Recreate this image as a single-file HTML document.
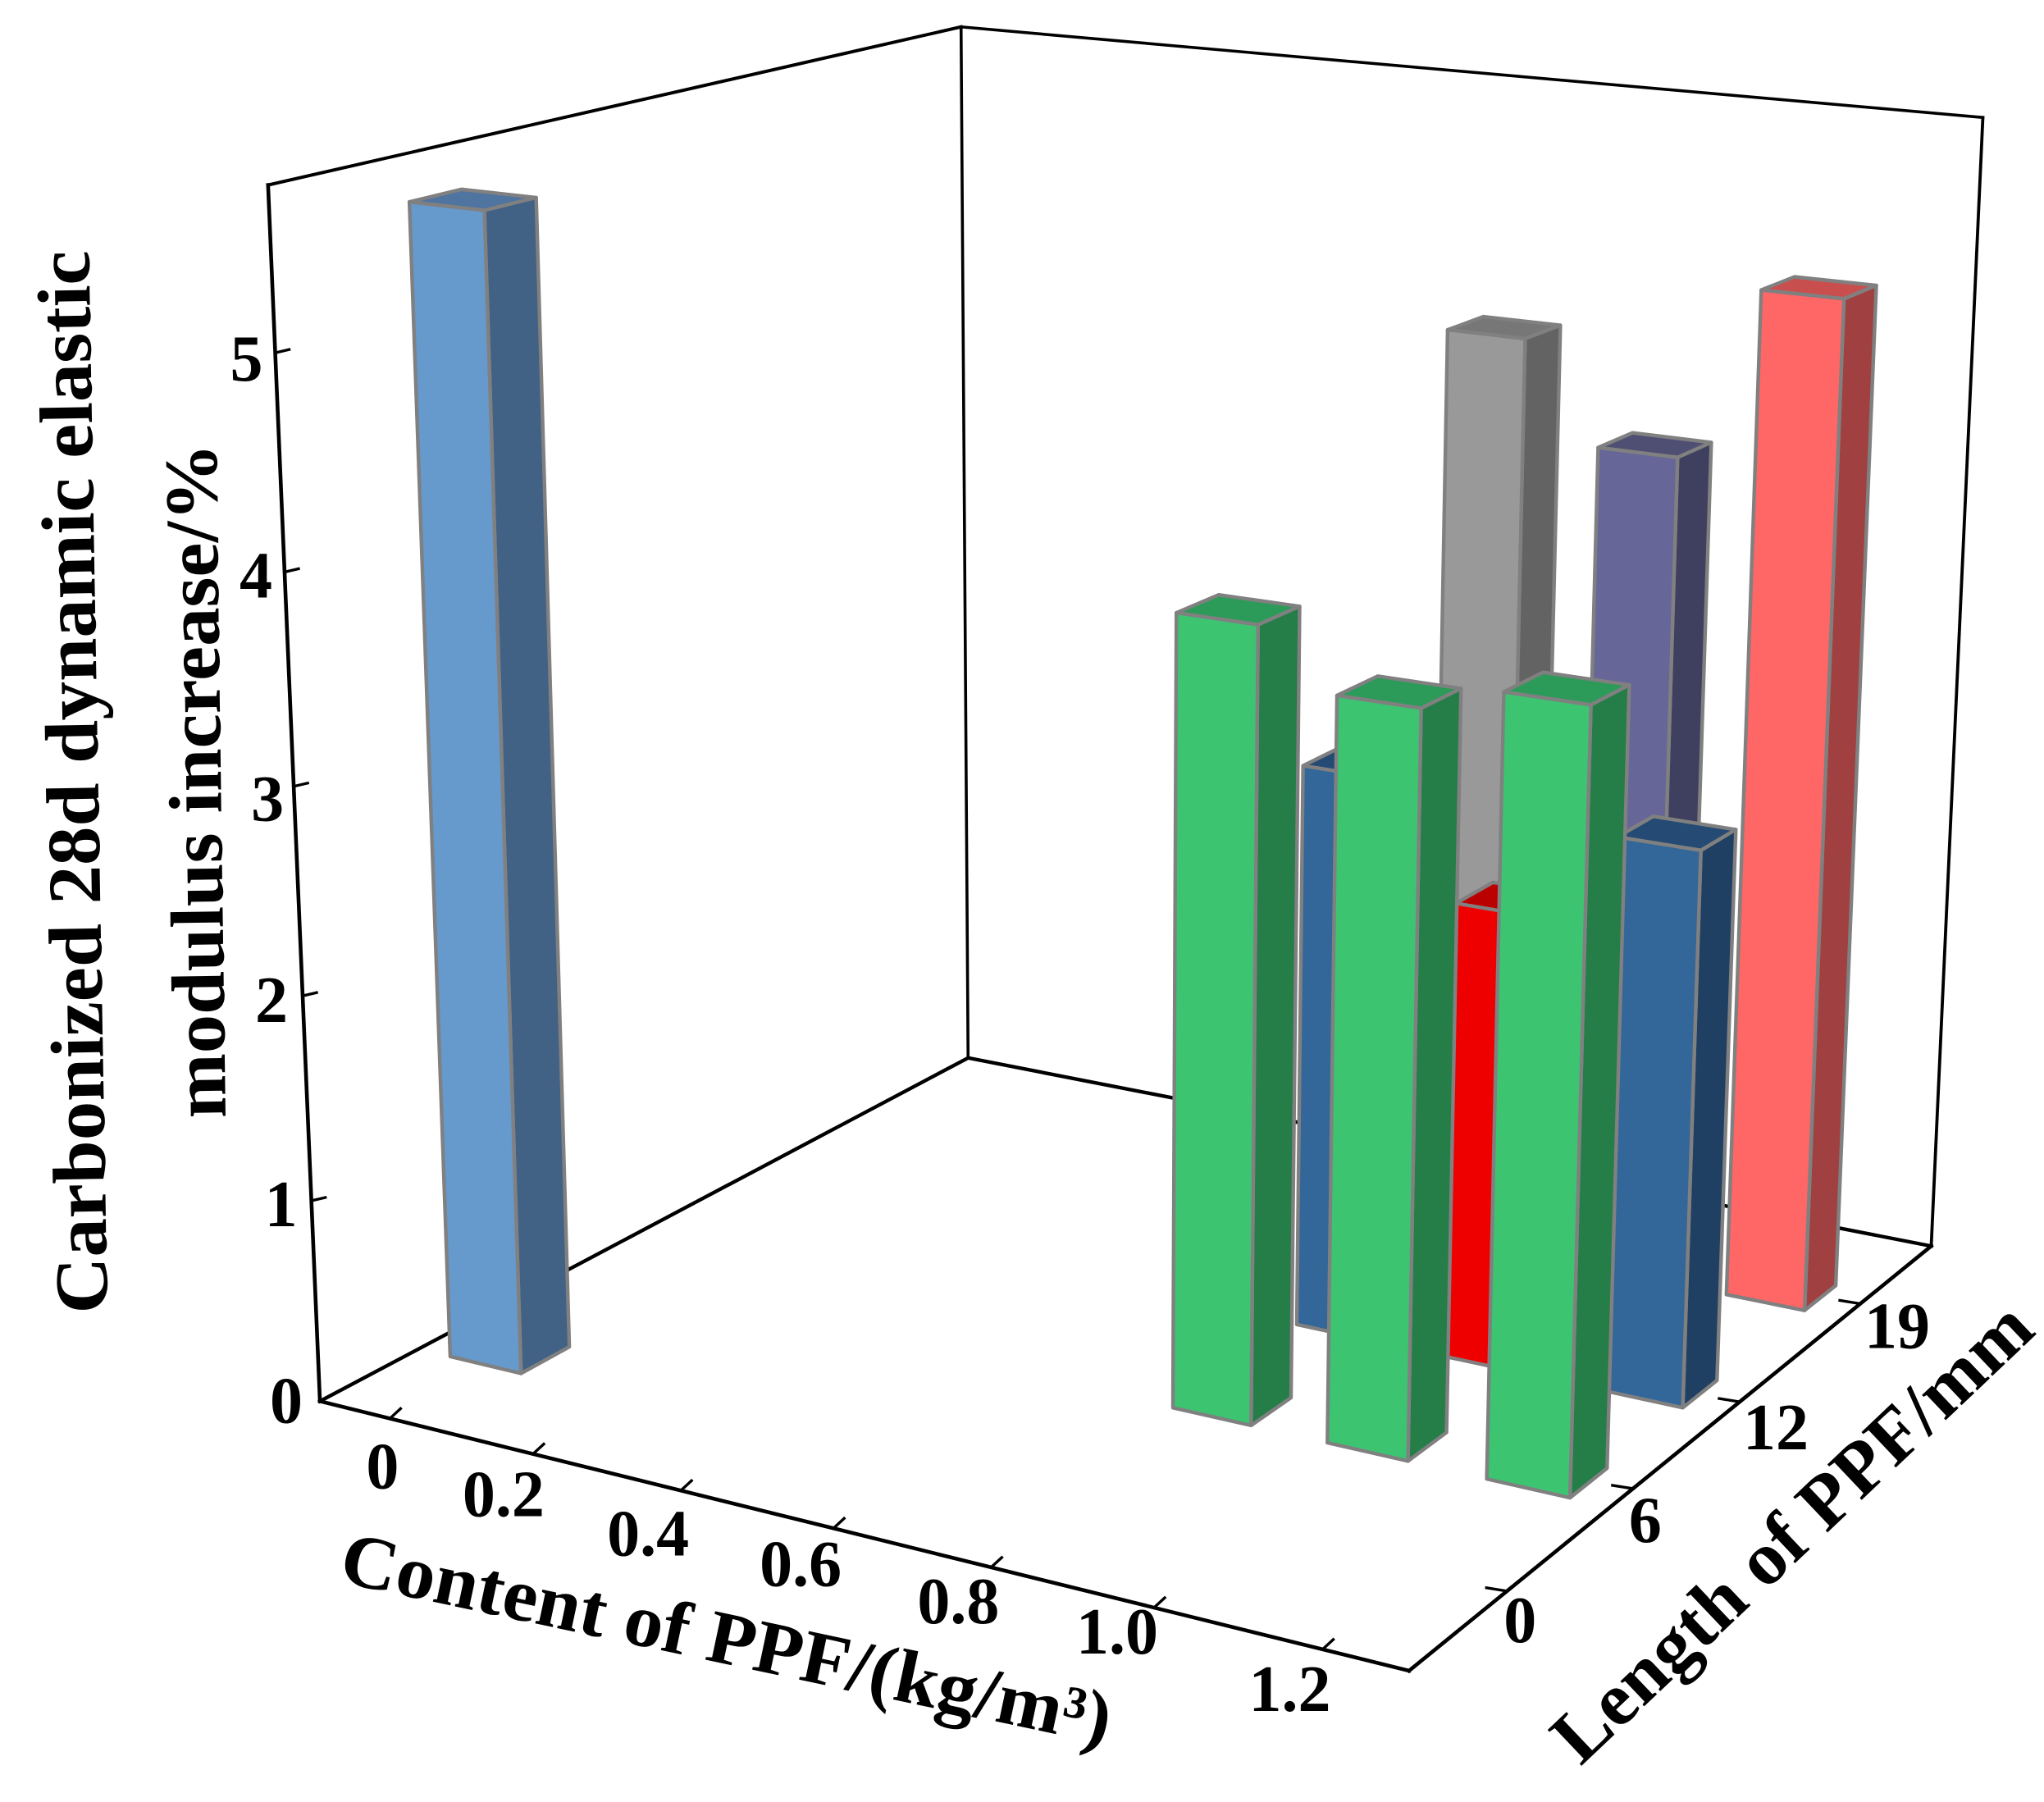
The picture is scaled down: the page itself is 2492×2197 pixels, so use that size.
<!DOCTYPE html>
<html lang="en">
<head>
<meta charset="utf-8">
<title>Carbonized 28d dynamic elastic modulus increase</title>
<style>
html,body{margin:0;padding:0;background:#fff;}
svg{display:block;}
text{font-family:"Liberation Serif",serif;font-weight:bold;fill:#000;}
</style>
</head>
<body>
<svg id="chart" xmlns="http://www.w3.org/2000/svg" width="2492" height="2197" viewBox="0 0 2492 2197">
  <rect x="0" y="0" width="2492" height="2197" fill="#ffffff"/>
  <g id="back-frame"></g>
  <g id="bars"></g>
  <g id="front-frame"></g>
  <g id="labels"></g>
  <text transform="translate(131,1601) rotate(-91)" font-size="92" textLength="1296" lengthAdjust="spacingAndGlyphs">Carbonized 28d dynamic elastic</text>
  <text transform="translate(275,1363) rotate(-90.8)" font-size="92" textLength="823" lengthAdjust="spacingAndGlyphs">modulus increase/%</text>
  <text transform="translate(411,1928) rotate(12)" font-size="92" textLength="958" lengthAdjust="spacingAndGlyphs">Content of PPF/(kg/m³)</text>
  <text transform="translate(1927,2154) rotate(-43.5)" font-size="92" textLength="768" lengthAdjust="spacingAndGlyphs">Length of PPF/mm</text>
</svg>
<script>
// ---- chart data ----
const contentLabels = ['0', '0.2', '0.4', '0.6', '0.8', '1.0', '1.2'];
const lengthLabels = ['0', '6', '12', '19'];
const zTickValues = [0, 1, 2, 3, 4, 5];
const zAxisMax = 5.75;
const seriesLength0 = [5.58, null, null, null, null, null, null];
const seriesLength6 = [null, null, null, null, 3.84, 3.57, 3.7];
const seriesLength12 = [null, null, null, null, 2.83, 2.28, 2.73];
const seriesLength19 = [null, null, null, null, 4.68, 4.19, 5.04];
const seriesByLength = [seriesLength0, seriesLength6, seriesLength12, seriesLength19];

// ---- styling / layout ----
const barStyleByRow = [
  [['#6699CC', '#416185', '#4F74A0']],
  [['#3CC471', '#257D48', '#2C9A58'], ['#3CC471', '#257D48', '#2C9A58'], ['#3CC471', '#257D48', '#2C9A58']],
  [['#336699', '#1F3F63', '#254B75'], ['#EE0000', '#990000', '#BB0000'], ['#336699', '#1F3F63', '#254B75']],
  [['#999999', '#636363', '#777777'], ['#666699', '#3F3F60', '#4F4F74'], ['#FF6666', '#A04040', '#C94F4F']]
];
const barHalfWidth = 0.255, barHalfDepth = 0.135;
const xBins = contentLabels.length, yBins = lengthLabels.length;
const rowCentres = [0.66, 1.5, 2.345, 3.34];
const firstColumnNudge = -0.015;
const lengthTickPlaces = [0.64, 1.53, 2.35, 3.36];
const xLabelNudge = [[-9,58],[-36,49],[-40,52],[-40,43],[-40,41],[-45,29],[-40,48]];
const yLabelNudge = [[16,35],[15,38],[44,31],[45,27]];
const zLabelNudge = [[-41,-1],[-37,4],[-38,5],[-32,15],[-35,4],[-35,7]];

// ---- camera calibration: [x-bin, y-bin, z-value] -> screen pixel, fit weight ----
const cameraCalibration = [
  [0,0,0,391,1708,4],[7,0,0,1716,2037,4],[7,4,0,2355,1519,4],[0,4,0,1179,1290,4],
  [0,0,5.75,326,226,4],[0,4,5.75,1173,33,4],[7,4,5.75,2417,143,4],
  [0.5,0,0,473,1729,1],[1.5,0,0,652,1773,1],[2.5,0,0,830,1816,1],[3.5,0,0,1018,1864,1],
  [4.5,0,0,1210,1913,1],[5.5,0,0,1410,1963,1],[6.5,0,0,1615,2009,1],
  [0,0,1,379,1464,1],[0,0,2,368,1213,1],[0,0,4,347,696,1],[0,0,5,335,430,1]
];

function solveCamera() {
  const n = 11;
  const A = [];
  for (let i = 0; i < n; i++) { A.push(new Array(n + 1).fill(0)); }
  function addRow(row, rhs, wt) {
    for (let i = 0; i < n; i++) {
      for (let j = 0; j < n; j++) { A[i][j] += wt * row[i] * row[j]; }
      A[i][n] += wt * row[i] * rhs;
    }
  }
  cameraCalibration.forEach(function (c) {
    const X = c[0] / xBins, Y = c[1] / yBins, Z = c[2] / zAxisMax;
    const u = c[3] / 1000, v = c[4] / 1000, wt = c[5];
    addRow([X, Y, Z, 1, 0, 0, 0, 0, -u * X, -u * Y, -u * Z], u, wt);
    addRow([0, 0, 0, 0, X, Y, Z, 1, -v * X, -v * Y, -v * Z], v, wt);
  });
  for (let c = 0; c < n; c++) {
    let best = c;
    for (let r = c + 1; r < n; r++) { if (Math.abs(A[r][c]) > Math.abs(A[best][c])) best = r; }
    const t = A[c]; A[c] = A[best]; A[best] = t;
    for (let r = 0; r < n; r++) {
      if (r === c) continue;
      const f = A[r][c] / A[c][c];
      for (let k = c; k <= n; k++) { A[r][k] -= f * A[c][k]; }
    }
  }
  const p = [];
  for (let i = 0; i < n; i++) { p.push(A[i][n] / A[i][i]); }
  return p;
}
const cam = solveCamera();

// axis function: data coordinates -> screen
function project(xb, yb, z) {
  const X = xb / xBins, Y = yb / yBins, Z = z / zAxisMax;
  const w = cam[8] * X + cam[9] * Y + cam[10] * Z + 1;
  return [
    1000 * (cam[0] * X + cam[1] * Y + cam[2] * Z + cam[3]) / w,
    1000 * (cam[4] * X + cam[5] * Y + cam[6] * Z + cam[7]) / w
  ];
}

const NS = 'http://www.w3.org/2000/svg';
function drawLine(parent, a, b, width, name) {
  const el = document.createElementNS(NS, 'line');
  el.setAttribute('x1', a[0]);
  el.setAttribute('y1', a[1]);
  el.setAttribute('x2', b[0]);
  el.setAttribute('y2', b[1]);
  el.setAttribute('stroke', '#000');
  el.setAttribute('stroke-width', width);
  el.setAttribute('stroke-linecap', 'square');
  
  
  parent.appendChild(el);
}
function drawFace(parent, pts, fill, name) {
  const el = document.createElementNS(NS, 'polygon');
  el.setAttribute('points', pts.map(function (p) { return p[0].toFixed(1) + ',' + p[1].toFixed(1); }).join(' '));
  el.setAttribute('fill', fill);
  el.setAttribute('stroke', '#808080');
  el.setAttribute('stroke-width', '4.4');
  el.setAttribute('stroke-linejoin', 'round');
  
  
  parent.appendChild(el);
}
function drawLabel(parent, cx, cy, str, name) {
  const el = document.createElementNS(NS, 'text');
  el.setAttribute('x', cx);
  el.setAttribute('y', cy + 27);
  el.setAttribute('text-anchor', 'middle');
  el.setAttribute('font-size', '80');
  
  
  el.textContent = str;
  parent.appendChild(el);
}

const backG = document.getElementById('back-frame');
const barsG = document.getElementById('bars');
const frontG = document.getElementById('front-frame');
const labelG = document.getElementById('labels');

// back frame
drawLine(backG, project(0, 0, 0), project(0, yBins, 0), 4.4, 'floor-left-edge');
drawLine(backG, project(0, yBins, 0), project(xBins, yBins, 0), 4.4, 'floor-back-edge');
drawLine(backG, project(0, yBins, 0), project(0, yBins, zAxisMax), 3.6, 'back-vertical-edge');
drawLine(backG, project(xBins, yBins, 0), project(xBins, yBins, zAxisMax), 3.8, 'right-vertical-edge');
drawLine(backG, project(0, 0, zAxisMax), project(0, yBins, zAxisMax), 4, 'top-left-edge');
drawLine(backG, project(0, yBins, zAxisMax), project(xBins, yBins, zAxisMax), 3.6, 'top-back-edge');

// bars, back row first
for (let row = yBins - 1; row >= 0; row--) {
  const series = seriesByLength[row];
  let styleIdx = 0;
  series.forEach(function (val, col) {
    if (val === null) return;
    const style = barStyleByRow[row][styleIdx++];
    const cx = col + 0.5 + (col === 0 ? firstColumnNudge : 0), cy = rowCentres[row];
    const x0 = cx - barHalfWidth, x1 = cx + barHalfWidth;
    const y0 = cy - barHalfDepth, y1 = cy + barHalfDepth;
    const tag = 'bar-' + contentLabels[col] + '-' + lengthLabels[row];
    drawFace(barsG, [project(x0, y0, val), project(x1, y0, val), project(x1, y1, val), project(x0, y1, val)], style[2], tag + '-top');
    drawFace(barsG, [project(x1, y0, 0), project(x1, y1, 0), project(x1, y1, val), project(x1, y0, val)], style[1], tag + '-side');
    drawFace(barsG, [project(x0, y0, 0), project(x1, y0, 0), project(x1, y0, val), project(x0, y0, val)], style[0], tag + '-front');
  });
}

// front axes
drawLine(frontG, project(0, 0, 0), project(0, 0, zAxisMax), 4.6, 'z-axis-line');
drawLine(frontG, project(0, 0, 0), project(xBins, 0, 0), 4.6, 'x-axis-line');
drawLine(frontG, project(xBins, 0, 0), project(xBins, yBins, 0), 4.6, 'y-axis-line');

contentLabels.forEach(function (lab, i) {
  const p = project(i + 0.5, 0, 0);
  drawLine(frontG, p, [p[0] + 13, p[1] - 12], 3.4, 'x-tick-' + lab);
  drawLabel(labelG, p[0] + xLabelNudge[i][0], p[1] + xLabelNudge[i][1], lab, 'x-tick-label-' + lab);
});
lengthLabels.forEach(function (lab, i) {
  const p = project(xBins, lengthTickPlaces[i], 0);
  drawLine(frontG, p, [p[0] - 25, p[1] - 4], 3.4, 'y-tick-' + lab);
  drawLabel(labelG, p[0] + yLabelNudge[i][0], p[1] + yLabelNudge[i][1], lab, 'y-tick-label-' + lab);
});
zTickValues.forEach(function (val, i) {
  const p = project(0, 0, val);
  if (val > 0) { drawLine(frontG, p, [p[0] + 17, p[1] - 4], 3.4, 'z-tick-' + val); }
  drawLabel(labelG, p[0] + zLabelNudge[i][0], p[1] + zLabelNudge[i][1], String(val), 'z-tick-label-' + val);
});
</script>
</body>
</html>
